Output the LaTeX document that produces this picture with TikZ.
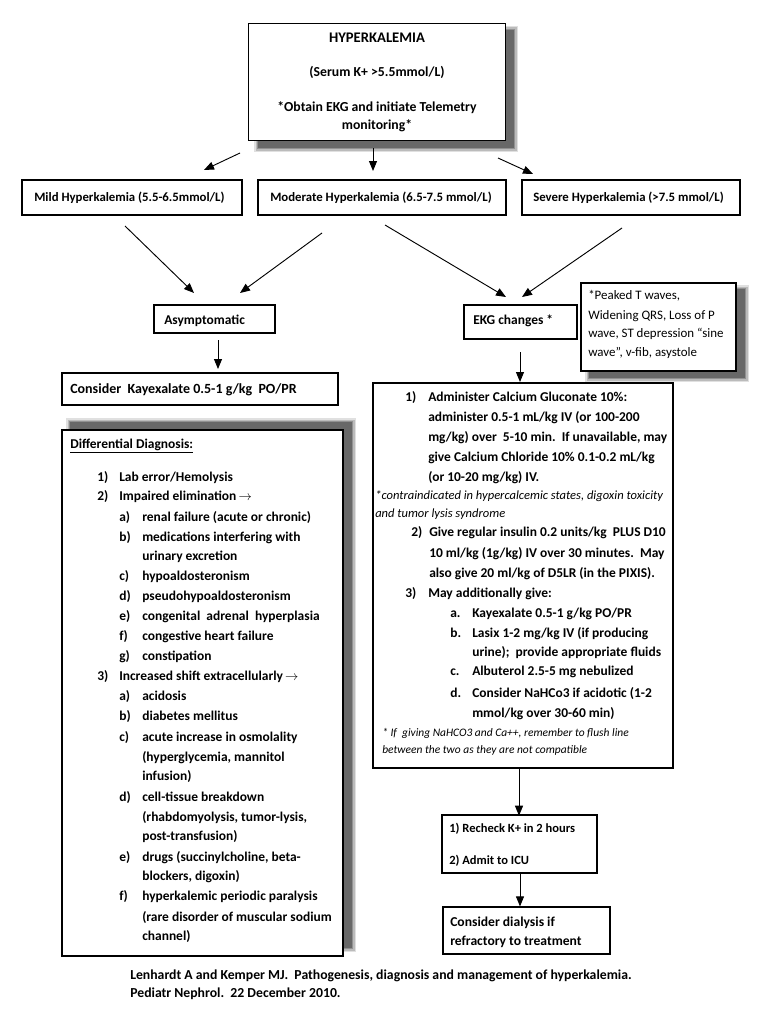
\documentclass[tikz,border=0pt]{standalone}
\usepackage{fontspec}
\setmainfont{Carlito}
\usetikzlibrary{arrows.meta,calc,fit}
\newcommand\fs[1]{\fontsize{#1pt}{1.2\dimexpr#1pt\relax}\selectfont\bfseries}
\newcommand\itf[1]{\fontsize{#1pt}{1.2\dimexpr#1pt\relax}\selectfont\mdseries\itshape}
\newcommand\regf{\fontsize{9.7pt}{11pt}\selectfont\mdseries}
\newcommand\softshadow[2]{%
  \foreach \e/\o in {4/0.12,2.5/0.16,1/0.22,0/0.28}
    \fill[black,opacity=\o] ($#1+(-\e,-\e)$) rectangle ($#2+(\e,\e)$);}
\begin{document}
\begin{tikzpicture}[x=0.75pt,y=-0.75pt,font=\fs{10.1},
  box/.style={draw,line width=0.9pt,fill=white,inner sep=0pt},
  thickbox/.style={draw,line width=1.5pt,fill=white,inner sep=0pt},
  thinbox/.style={draw,line width=0.7pt,fill=white,inner sep=0pt},
  arr/.style={line width=0.7pt,-{Triangle[length=7.5pt,width=6pt]}},
  txt/.style={anchor=base west,inner sep=0pt},
  ctxt/.style={anchor=base,inner sep=0pt}]
\fill[white] (0,0) rectangle (768,1024);
\useasboundingbox (0,0) rectangle (768,1024);

% ---------- top box
\softshadow{(258,30)}{(514,148)}
\node[thinbox,fit={(248,23)(505,140)}] (top) {};
\node[ctxt,font=\fs{11}] (t1) at (377,43) {HYPERKALEMIA};
\node[ctxt,font=\fs{10.3}] (t2) at (377,76) {(Serum K+ >5.5mmol/L)};
\node[ctxt,font=\fs{10.3}] (t3) at (377,111) {*Obtain EKG and initiate Telemetry};
\node[ctxt,font=\fs{10.3}] (t4) at (377,129) {monitoring*};

% ---------- severity boxes
\node[thickbox,fit={(22,180)(242,215)}] (mild) {};
\node[txt,font=\fs{9.6}] (mildt) at (34,201) {Mild Hyperkalemia (5.5-6.5mmol/L)};
\node[thickbox,fit={(258,180)(506,215)}] (mod) {};
\node[txt,font=\fs{9.6}] (modt) at (270,201) {Moderate Hyperkalemia (6.5-7.5 mmol/L)};
\node[thickbox,fit={(522,180)(740,215)}] (sev) {};
\node[txt,font=\fs{9.6}] (sevt) at (533,201) {Severe Hyperkalemia (>7.5 mmol/L)};

% arrows from top
\coordinate (a1s) at (240,153); \coordinate (a1e) at (204,170);
\coordinate (a2s) at (373,148); \coordinate (a2e) at (373,171);
\coordinate (a3s) at (498,158); \coordinate (a3e) at (533,174);
\draw[arr] (a1s) -- (a1e);
\draw[arr] (a2s) -- (a2e);
\draw[arr] (a3s) -- (a3e);

% ---------- asymptomatic / EKG
\node[box,fit={(154,305)(275,333)}] (asym) {};
\node[txt] (asymt) at (164,324) {Asymptomatic};
\node[box,fit={(464,305)(577,339)}] (ekg) {};
\node[txt] (ekgt) at (473,324) {EKG changes *};

\coordinate (b1s) at (125,226); \coordinate (b1e) at (194,293);
\coordinate (b2s) at (322,233); \coordinate (b2e) at (240,293);
\coordinate (b3s) at (385,225); \coordinate (b3e) at (506,297);
\coordinate (b4s) at (622,228); \coordinate (b4e) at (522,297);
\draw[arr] (b1s) -- (b1e);
\draw[arr] (b2s) -- (b2e);
\draw[arr] (b3s) -- (b3e);
\draw[arr] (b4s) -- (b4e);

% ---------- peaked T box
\softshadow{(589,289)}{(745,378)}
\node[box,fit={(581,283)(736,371)}] (peak) {};
\node[txt,font=\regf] (p1) at (588,299) {*Peaked T waves,};
\node[txt,font=\regf] (p2) at (588,319) {Widening QRS, Loss of P};
\node[txt,font=\regf] (p3) at (588,337) {wave, ST depression “sine};
\node[txt,font=\regf] (p4) at (588,356) {wave”, v-fib, asystole};

% ---------- Kayexalate
\node[box,fit={(62,373)(338,405)}] (kay) {};
\node[txt,font=\fs{10.5}] (kayt) at (70,393) {Consider\ \ Kayexalate 0.5-1 g/kg\ \ PO/PR};
\coordinate (c1s) at (218,340); \coordinate (c1e) at (218,369);
\draw[arr] (c1s) -- (c1e);

% ---------- treatment box
\node[box,fit={(373,383)(673,768)}] (treat) {};
\coordinate (c2s) at (520,352); \coordinate (c2e) at (520,382);
\draw[arr] (c2s) -- (c2e);
\foreach \x/\y/\t [count=\i] in {
  405/401/{1)}, 428/401/{Administer Calcium Gluconate 10\%:},
  428/421/{administer 0.5-1 mL/kg IV (or 100-200},
  428/441/{mg/kg) over\ \ 5-10 min.\ \ If unavailable, may},
  428/461/{give Calcium Chloride 10\% 0.1-0.2 mL/kg},
  428/481/{(or 10-20 mg/kg) IV.},
  411/536/{2)}, 429/536/{Give regular insulin 0.2 units/kg\ \ PLUS D10},
  429/557/{10 ml/kg (1g/kg) IV over 30 minutes.\ \ May},
  429/577/{also give 20 ml/kg of D5LR (in the PIXIS).},
  405/597/{3)}, 428/597/{May additionally give:},
  450/617/{a.}, 472/617/{Kayexalate 0.5-1 g/kg PO/PR},
  450/637/{b.}, 472/637/{Lasix 1-2 mg/kg IV (if producing},
  472/656/{urine);\ \ provide appropriate fluids},
  450/675/{c.}, 472/675/{Albuterol 2.5-5 mg nebulized},
  450/697/{d.}, 472/697/{Consider NaHCo3 if acidotic (1-2},
  472/717/{mmol/kg over 30-60 min)}}
  \node[txt] (tr\i) at (\x,\y) {\t};
\node[txt,font=\itf{9.4}] (ti1) at (375,499) {*contraindicated in hypercalcemic states, digoxin toxicity};
\node[txt,font=\itf{9.4}] (ti2) at (375,517) {and tumor lysis syndrome};
\node[txt,font=\itf{8.6}] (ti3) at (382,736) {* If\ \ giving NaHCO3 and Ca++, remember to flush line};
\node[txt,font=\itf{8.6}] (ti4) at (382,753) {between the two as they are not compatible};

% ---------- differential box
\softshadow{(70,422)}{(352,948)}
\node[box,fit={(62,430)(343,956)}] (diff) {};
\node[txt] (dh) at (70,448) {\underline{Differential Diagnosis:}};
\foreach \x/\y/\t [count=\i] in {
  97/481/{1)}, 119/481/{Lab error/Hemolysis},
  97/500/{2)}, 119/500/{Impaired elimination\,$\rightarrow$},
  119/521/{a)}, 142/521/{renal failure (acute or chronic)},
  119/541/{b)}, 142/541/{medications interfering with},
  142/560/{urinary excretion},
  119/580/{c)}, 142/580/{hypoaldosteronism},
  119/600/{d)}, 142/600/{pseudohypoaldosteronism},
  119/620/{e)}, 142/620/{congenital\ \ adrenal\ \ hyperplasia},
  119/640/{f)}, 142/640/{congestive heart failure},
  119/660/{g)}, 142/660/{constipation},
  97/680/{3)}, 119/680/{Increased shift extracellularly\,$\rightarrow$},
  119/700/{a)}, 142/700/{acidosis},
  119/720/{b)}, 142/720/{diabetes mellitus},
  119/741/{c)}, 142/741/{acute increase in osmolality},
  142/761/{(hyperglycemia, mannitol},
  142/780/{infusion)},
  119/801/{d)}, 142/801/{cell-tissue breakdown},
  142/821/{(rhabdomyolysis, tumor-lysis,},
  142/840/{post-transfusion)},
  119/861/{e)}, 142/861/{drugs (succinylcholine, beta-},
  142/880/{blockers, digoxin)},
  119/900/{f)}, 142/900/{hyperkalemic periodic paralysis},
  142/921/{(rare disorder of muscular sodium},
  142/940/{channel)}}
  \node[txt] (dd\i) at (\x,\y) {\t};

% ---------- recheck / dialysis
\node[box,fit={(442,815)(597,873)}] (rech) {};
\node[txt,font=\fs{9.4}] (r1) at (449,832) {1) Recheck K+ in 2 hours};
\node[txt,font=\fs{9.4}] (r2) at (449,864) {2) Admit to ICU};
\node[box,fit={(443,907)(610,954)}] (dial) {};
\node[txt,font=\fs{10.2}] (d1) at (450,926) {Consider dialysis if};
\node[txt,font=\fs{10.2}] (d2) at (450,945) {refractory to treatment};
\draw[arr] (treat.south -| 519,0) -- ([yshift=-1pt]rech.north -| 519,0);
\draw[arr] (rech.south -| 520,0) -- (dial.north -| 520,0);

% ---------- citation
\node[txt,font=\fs{10.3}] (cit1) at (130,979) {Lenhardt A and Kemper MJ.\ \ Pathogenesis, diagnosis and management of hyperkalemia.};
\node[txt,font=\fs{10.3}] (cit2) at (130,997) {Pediatr Nephrol.\ \ 22 December 2010.};
\end{tikzpicture}
\end{document}
